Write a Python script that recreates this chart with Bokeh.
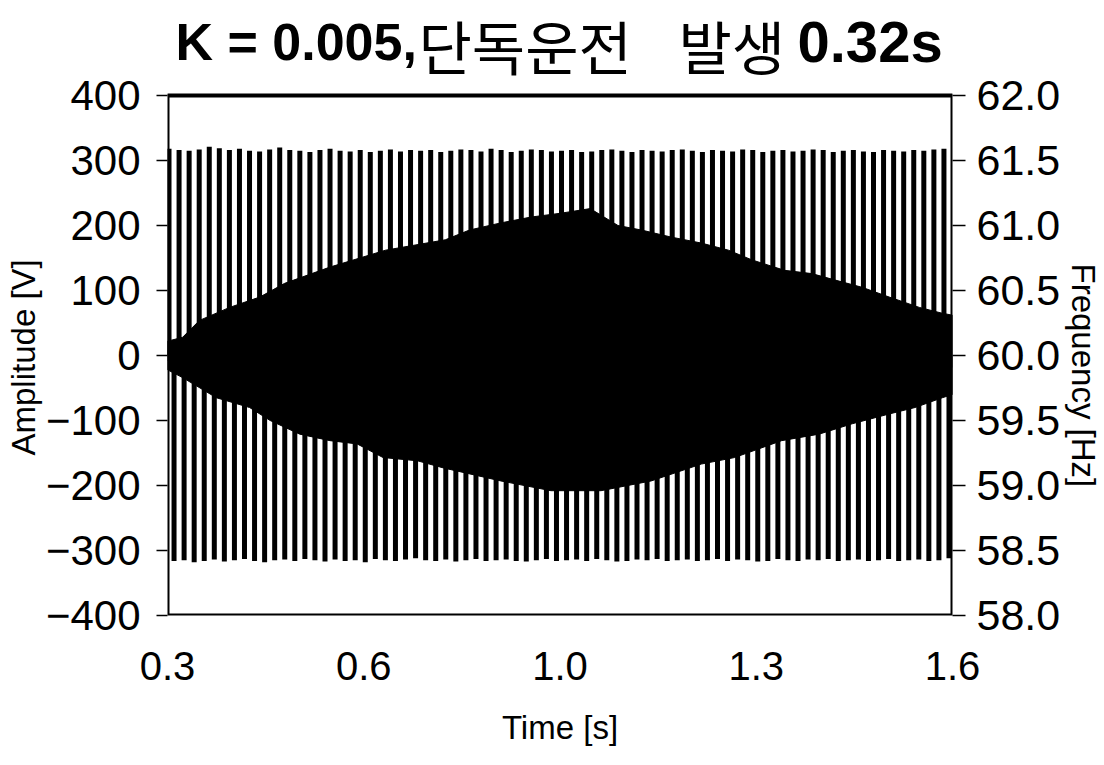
from bokeh.plotting import figure
from bokeh.models import Range1d, LinearAxis, FixedTicker, Title
from bokeh.core.properties import value
from bokeh.embed import file_html
from bokeh.resources import INLINE

# ---------------- data ----------------
# 60 Hz voltage: one positive and one negative peak per cycle
cycle_period = 1 / 60.0
first_peak_t = 0.3025
pos_peaks = [318, 316, 315, 317, 321, 319, 316, 318, 315, 314, 317, 320, 316,
             315, 313, 316, 318, 315, 314, 316, 313, 315, 317, 314, 316, 315,
             316, 313, 315, 317, 316, 314, 318, 316, 313, 315, 317, 316, 314,
             315, 316, 313, 314, 316, 317, 315, 313, 316, 315, 314, 316, 317,
             315, 313, 316, 315, 314, 317, 316, 313, 315, 316, 314, 315, 317,
             316, 313, 315, 316, 314, 313, 316, 315, 314, 316, 315, 317, 318]
neg_peaks = [-316, -315, -318, -316, -314, -317, -315, -313, -316, -318, -315, -314, -316,
             -313, -315, -317, -314, -316, -315, -318, -313, -315, -316, -314, -312, -315,
             -316, -314, -317, -315, -313, -316, -315, -314, -316, -317, -315, -313, -316,
             -315, -314, -316, -313, -315, -317, -316, -314, -315, -313, -316, -315, -314,
             -316, -315, -313, -316, -314, -315, -317, -316, -313, -315, -316, -314, -315,
             -313, -316, -315, -314, -316, -315, -313, -316, -315, -314, -316, -315, -312]

# inner (dense) envelope of the waveform
env_upper_t = [0.300, 0.325, 0.353, 0.403, 0.453, 0.494, 0.569, 0.661, 0.760, 0.800,
               0.852, 0.902, 0.952, 1.000, 1.046, 1.085, 1.135, 1.184, 1.229, 1.268,
               1.322, 1.367, 1.406, 1.450, 1.495, 1.545, 1.583, 1.600]
env_upper_v = [22, 28, 54, 74, 90, 111, 136, 162, 178, 193,
               204, 213, 219, 226, 200, 193, 182, 173, 162, 147,
               131, 126, 116, 105, 90, 74, 65, 62]
env_lower_t = [0.300, 0.325, 0.381, 0.436, 0.470, 0.519, 0.569, 0.614, 0.657, 0.714,
               0.757, 0.852, 0.935, 1.018, 1.101, 1.184, 1.239, 1.317, 1.379, 1.434,
               1.495, 1.538, 1.583, 1.600]
env_lower_v = [-22, -34, -65, -80, -100, -121, -131, -136, -157, -162,
               -173, -193, -208, -208, -193, -167, -157, -131, -121, -105,
               -90, -80, -65, -60]

# frequency trace (right axis)
freq_t = [0.300, 0.330, 0.380, 0.395, 0.455, 0.465, 0.500, 0.510, 0.550, 0.555,
          0.600, 0.605, 0.660, 0.670, 0.770, 0.850, 0.870, 0.900, 0.950, 1.100,
          1.300, 1.600]
freq_hz = [60.00, 60.00, 60.02, 60.14, 60.14, 60.07, 60.07, 59.94, 59.94, 60.02,
           60.02, 59.94, 59.94, 59.98, 59.98, 59.98, 60.03, 59.97, 59.96, 59.95,
           59.95, 59.95]

x_ticks = [0.3, 0.625, 0.95, 1.275, 1.6]
x_tick_labels = ["0.3", "0.6", "1.0", "1.3", "1.6"]
amp_ticks = [-400, -300, -200, -100, 0, 100, 200, 300, 400]
amp_tick_labels = ["\u2212400", "\u2212300", "\u2212200", "\u2212100", "0", "100", "200", "300", "400"]
freq_ticks = [58.0, 58.5, 59.0, 59.5, 60.0, 60.5, 61.0, 61.5, 62.0]
freq_tick_labels = ["58.0", "58.5", "59.0", "59.5", "60.0", "60.5", "61.0", "61.5", "62.0"]

title_parts = ["K = 0.005,", "단독운전", "발생", "0.32s"]
title_bold = [True, False, False, True]

# axis limits
X_MIN, X_MAX = 0.3, 1.6
Y_MIN, Y_MAX = -400, 400
F_MIN, F_MAX = 58.0, 62.0

FONT = "Liberation Sans"
KFONT = "Noto Sans CJK KR"

# ---------------- layout geometry (pixels) ----------------
W, H = 1104, 765
BOX_L, BOX_R, BOX_T, BOX_B = 167, 952, 95, 615        # plotting box in the page
box_h = BOX_B - BOX_T
units_per_px = (Y_MAX - Y_MIN) / box_h
y_top = Y_MAX + BOX_T * units_per_px                   # frame reaches the page top (room for the title)
f_top = F_MAX + BOX_T * (F_MAX - F_MIN) / box_h

p = figure(width=W, height=H, output_backend="svg", toolbar_location=None,
           x_range=Range1d(X_MIN, X_MAX), y_range=Range1d(Y_MIN, y_top),
           min_border_left=BOX_L, min_border_right=W - BOX_R,
           min_border_top=0, min_border_bottom=H - BOX_B)
p.title.visible = False
p.extra_y_ranges = {"freq": Range1d(F_MIN, f_top)}
p.background_fill_color = "white"
p.border_fill_color = "white"
p.outline_line_color = None
p.xgrid.visible = False
p.ygrid.visible = False

# waveform: positive / negative peak strokes
pos_t = [first_peak_t + k * cycle_period for k in range(len(pos_peaks))]
neg_t = [first_peak_t + (k + 0.5) * cycle_period for k in range(len(neg_peaks))]
p.segment(x0=pos_t, y0=[0] * len(pos_t), x1=pos_t, y1=pos_peaks,
          line_color="black", line_width=5, line_cap="butt")
p.segment(x0=neg_t, y0=[0] * len(neg_t), x1=neg_t, y1=neg_peaks,
          line_color="black", line_width=5, line_cap="butt")

# dense inner region
env_x = env_upper_t + env_lower_t[::-1]
env_y = env_upper_v + env_lower_v[::-1]
p.patch(env_x, env_y, fill_color="black", line_color="black", line_width=1)

# frequency
p.line(freq_t, freq_hz, y_range_name="freq", line_color="black", line_width=11)

# plotting box
p.quad(left=[X_MIN], right=[X_MAX], bottom=[Y_MIN], top=[Y_MAX],
       fill_color=None, line_color="black", line_width=4)

# title (mixed bold / regular), drawn inside the extended frame
px_to_t = (X_MAX - X_MIN) / (BOX_R - BOX_L)
title_x_px = [175, 418, 678, 797]
title_y_px = [41, 44, 44, 41]
title_size = ["52px", "58px", "58px", "58px"]
for txt, bold, xpx, ypx, sz in zip(title_parts, title_bold, title_x_px, title_y_px, title_size):
    p.text(x=[X_MIN + (xpx - BOX_L) * px_to_t], y=[Y_MAX + (BOX_T - ypx) * units_per_px],
           text=[txt],
           text_font=value(FONT if bold else KFONT),
           text_font_style=value("bold" if bold else "normal"),
           text_font_size=value(sz), text_baseline=value("middle"),
           text_align=value("left"), text_color="black")

# left axis
la = p.left[0]
la.ticker = FixedTicker(ticks=amp_ticks)
la.major_label_overrides = {tk: s for tk, s in zip(amp_ticks, amp_tick_labels)}
la.minor_tick_line_color = None
la.major_tick_in = 0
la.major_tick_out = 11
la.major_tick_line_width = 1.5
la.axis_line_color = None
la.major_label_standoff = 16
la.major_label_text_font = FONT
la.major_label_text_font_size = "42px"
la.major_label_text_color = "black"

# right axis
ra = LinearAxis(y_range_name="freq")
ra.ticker = FixedTicker(ticks=freq_ticks)
ra.major_label_overrides = {tk: s for tk, s in zip(freq_ticks, freq_tick_labels)}
ra.minor_tick_line_color = None
ra.major_tick_in = 0
ra.major_tick_out = 13
ra.major_tick_line_width = 1.5
ra.axis_line_color = None
ra.major_label_standoff = 11
ra.major_label_text_font = FONT
ra.major_label_text_font_size = "43px"
ra.major_label_text_color = "black"
p.add_layout(ra, "right")

# axis titles for the two value axes, placed along the plotting box
amp_label_start_px = 455      # bottom end of "Amplitude [V]" (reads upward)
freq_label_start_px = 263     # top end of "Frequency [Hz]"
p.add_layout(Title(text="Amplitude [V]", align="left", offset=BOX_B - amp_label_start_px,
                   standoff=2, text_font=FONT, text_font_size="33px",
                   text_font_style="normal", text_color="black"), "left")
p.add_layout(Title(text="Frequency [Hz]", align="left", offset=freq_label_start_px,
                   standoff=2, text_font=FONT, text_font_size="33px",
                   text_font_style="normal", text_color="black"), "right")

# bottom axis
ba = p.below[0]
ba.ticker = FixedTicker(ticks=x_ticks)
ba.major_label_overrides = {tk: s for tk, s in zip(x_ticks, x_tick_labels)}
ba.minor_tick_line_color = None
ba.major_tick_line_color = None
ba.major_tick_in = 0
ba.major_tick_out = 0
ba.axis_line_color = None
ba.major_label_standoff = 36
ba.major_label_text_font = FONT
ba.major_label_text_font_size = "40px"
ba.major_label_text_color = "black"
ba.axis_label = "Time [s]"
ba.axis_label_text_font = FONT
ba.axis_label_text_font_size = "33px"
ba.axis_label_text_font_style = "normal"
ba.axis_label_text_color = "black"
ba.axis_label_standoff = 26

open("out.html", "w").write(file_html(p, INLINE))
